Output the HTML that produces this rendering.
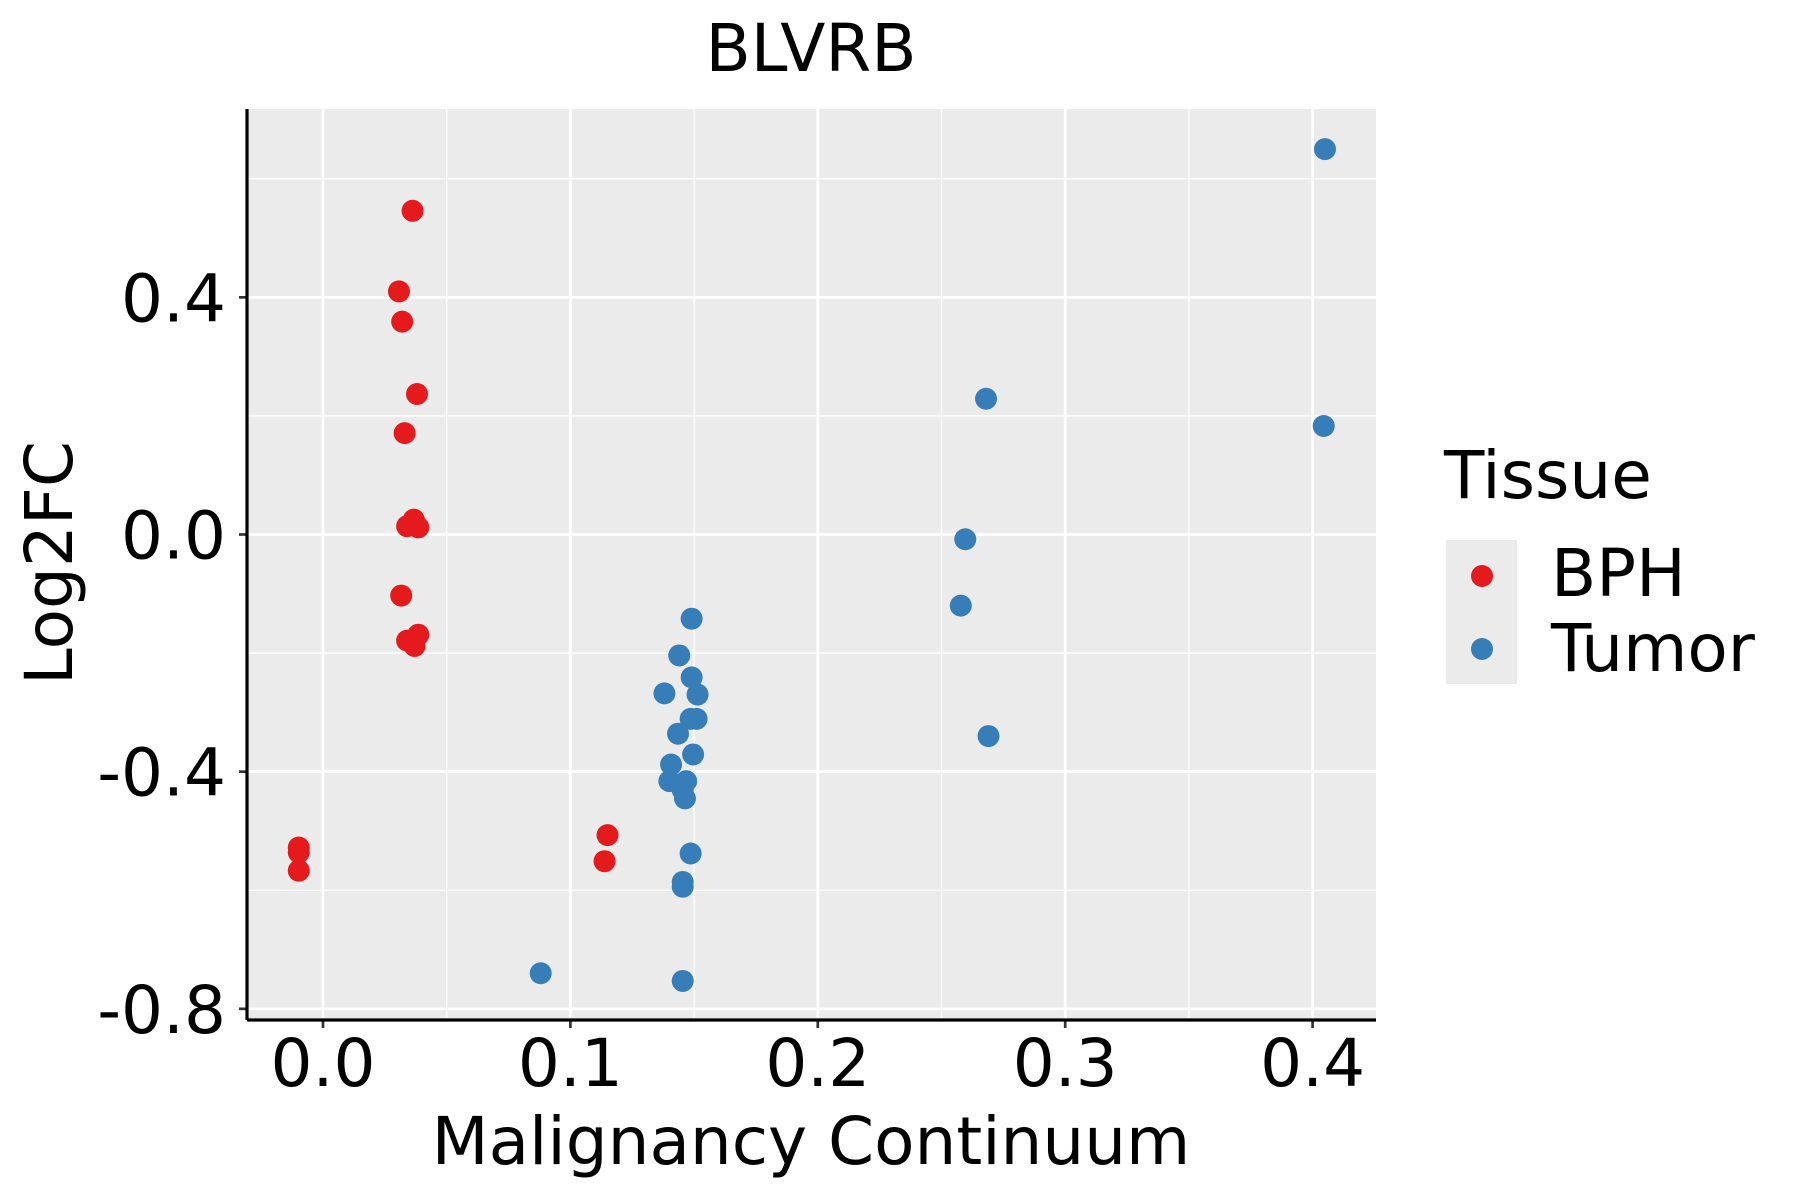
<!DOCTYPE html>
<html><head><meta charset="utf-8"><style>
html,body{margin:0;padding:0;background:#fff}
svg{display:block;font-family:"DejaVu Sans","Liberation Sans",sans-serif}
</style></head><body>
<svg id="chart" width="1800" height="1200" viewBox="0 0 1800 1200">
<rect x="247" y="109" width="1129" height="911" fill="#ebebeb"/>
<g id="grid"></g>
<g id="points"></g>
<g id="axes"></g>
<text x="811" y="71" font-size="66" text-anchor="middle">BLVRB</text>
<text x="811" y="1164" font-size="66" text-anchor="middle">Malignancy Continuum</text>
<text transform="translate(72,563) rotate(-90)" font-size="66" text-anchor="middle">Log2FC</text>
<g>
<text x="1444" y="498" font-size="66">Tissue</text>
<rect x="1446" y="540" width="71" height="144" fill="#ebebeb"/>
<circle cx="1482" cy="576" r="11" fill="#e41a1c"/>
<circle cx="1482" cy="649" r="11" fill="#377eb8"/>
<text x="1551" y="596" font-size="66">BPH</text>
<text x="1551" y="671" font-size="66">Tumor</text>
</g>
</svg>
<script>
const bphX=[0.0362,0.0307,0.032,0.038,0.033,0.0367,0.034,0.0385,0.0316,0.0385,0.034,0.037,-0.0098,-0.0098,-0.0098,0.115,0.1138];
const bphY=[0.546,0.410,0.359,0.237,0.171,0.025,0.014,0.012,-0.103,-0.169,-0.179,-0.188,-0.528,-0.536,-0.567,-0.507,-0.551];
const tumorX=[0.405,0.4045,0.268,0.2596,0.2578,0.269,0.149,0.144,0.149,0.138,0.1514,0.1486,0.151,0.1435,0.1496,0.1407,0.140,0.1468,0.1454,0.1463,0.1486,0.1454,0.1454,0.088,0.1454];
const tumorY=[0.650,0.183,0.229,-0.008,-0.120,-0.340,-0.142,-0.204,-0.241,-0.268,-0.270,-0.311,-0.311,-0.336,-0.371,-0.388,-0.416,-0.416,-0.431,-0.445,-0.538,-0.586,-0.594,-0.740,-0.753];
const xTicks=[0,0.1,0.2,0.3,0.4];
const xTickLabels=["0.0","0.1","0.2","0.3","0.4"];
const xMinor=[0.05,0.15,0.25,0.35];
const yTicks=[0.4,0,-0.4,-0.8];
const yTickLabels=["0.4","0.0","-0.4","-0.8"];
const yMinor=[0.6,0.2,-0.2,-0.6];

const L=247,R=1376,T=109,B=1020;
const sx=v=>323+v*2474;
const sy=v=>534.5-v*592.9;
const NS="http://www.w3.org/2000/svg";
function mk(tag,attrs,parent){const e=document.createElementNS(NS,tag);for(const k in attrs)e.setAttribute(k,attrs[k]);parent.appendChild(e);return e;}
const grid=document.getElementById('grid'),pts=document.getElementById('points'),axes=document.getElementById('axes');
xMinor.forEach(v=>{const l=mk('line',{x1:sx(v),x2:sx(v),y1:T,y2:B,stroke:'#fff','stroke-width':1.3},grid);

});
yMinor.forEach(v=>{const l=mk('line',{x1:L,x2:R,y1:sy(v),y2:sy(v),stroke:'#fff','stroke-width':1.3},grid);

});
xTicks.forEach((v,i)=>{const l=mk('line',{x1:sx(v),x2:sx(v),y1:T,y2:B,stroke:'#fff','stroke-width':2.7},grid);


const t=mk('line',{x1:sx(v),x2:sx(v),y1:B,y2:B+8,stroke:'#333','stroke-width':2.7},axes);


const tx=mk('text',{x:sx(v),y:1086,'font-size':66,'text-anchor':'middle'},axes);tx.textContent=xTickLabels[i];

});
yTicks.forEach((v,i)=>{const l=mk('line',{x1:L,x2:R,y1:sy(v),y2:sy(v),stroke:'#fff','stroke-width':2.7},grid);


const t=mk('line',{x1:L-8,x2:L,y1:sy(v),y2:sy(v),stroke:'#333','stroke-width':2.7},axes);


const tx=mk('text',{x:226,y:sy(v)+24,'font-size':66,'text-anchor':'end'},axes);tx.textContent=yTickLabels[i];

});
const ax=mk('line',{x1:L,x2:R,y1:B,y2:B,stroke:'#000','stroke-width':3.2},axes);


const ay=mk('line',{x1:L,x2:L,y1:T,y2:B,stroke:'#000','stroke-width':3.2},axes);


bphX.forEach((v,i)=>{const c=mk('circle',{cx:sx(v),cy:sy(bphY[i]),r:11,fill:'#e41a1c'},pts);

});
tumorX.forEach((v,i)=>{const c=mk('circle',{cx:sx(v),cy:sy(tumorY[i]),r:11,fill:'#377eb8'},pts);

});
</script>
</body></html>
